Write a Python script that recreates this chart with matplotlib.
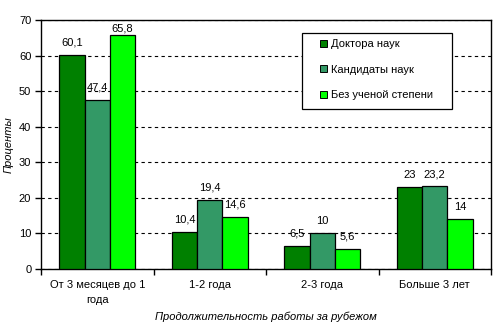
import matplotlib.pyplot as plt
from matplotlib.patches import Rectangle
import numpy as np

categories = ["От 3 месяцев до 1\nгода", "1-2 года", "2-3 года", "Больше 3 лет"]
series_names = ["Доктора наук", "Кандидаты наук", "Без ученой степени"]
doctors = [60.1, 10.4, 6.5, 23]
candidates = [47.4, 19.4, 10, 23.2]
no_degree = [65.8, 14.6, 5.6, 14]
colors = ["#008000", "#339966", "#00FF00"]

plt.rcParams['font.family'] = ['Liberation Sans', 'DejaVu Sans']
plt.rcParams['font.size'] = 8

fig = plt.figure(figsize=(4.95, 3.28), dpi=100)
ax = fig.add_axes([41 / 495, 1 - 269 / 328, 450 / 495, 249 / 328])

x = np.arange(len(categories))
width = 0.225
for i, (vals, name, col) in enumerate(zip([doctors, candidates, no_degree], series_names, colors)):
    pos = x + (i - 1) * width
    ax.bar(pos, vals, width, color=col, edgecolor="black", linewidth=0.9, label=name, zorder=3)
    for px, v in zip(pos, vals):
        label = f"{v:g}".replace(".", ",")
        ax.text(px, min(v + 3.5, 67.6), label, ha="center", va="center", fontsize=8, zorder=4)

ax.set_xlim(-0.5, len(categories) - 0.5)
ax.set_ylim(0, 70)
ax.set_yticks(range(0, 71, 10))
ax.yaxis.grid(True, linestyle=(0, (3, 3)), color="black", linewidth=0.8, zorder=0)

ax.set_xticks(x)
ax.set_xticklabels(categories, linespacing=1.6)
ax.set_xticks(np.arange(-0.5, len(categories), 1), minor=True)
ax.tick_params(axis="x", which="major", length=0, pad=8)
ax.tick_params(axis="x", which="minor", length=4, width=1, direction="out")
ax.tick_params(axis="y", length=4, width=1, direction="out", pad=3)

for sp in ax.spines.values():
    sp.set_linewidth(1.0)
    sp.set_color("black")

ax.set_ylabel("Проценты", style="italic", labelpad=4)
ax.set_xlabel("Продолжительность работы за рубежом", style="italic", labelpad=5)

# legend box drawn separately so padding matches the original
box = Rectangle((261 / 450, 160 / 249), 150 / 450, 76 / 249, transform=ax.transAxes,
                facecolor="white", edgecolor="black", linewidth=0.9, zorder=5)
ax.add_patch(box)
leg = ax.legend(loc="upper left", bbox_to_anchor=(279 / 450, 1 - 19 / 249), frameon=False,
                handlelength=0.6, handleheight=0.6, handletextpad=0.35, labelspacing=1.4,
                borderpad=0, borderaxespad=0, fontsize=8)
leg.set_zorder(6)
for h in leg.legend_handles:
    h.set_linewidth(0.7)

fig.savefig("out.png", dpi=100)
